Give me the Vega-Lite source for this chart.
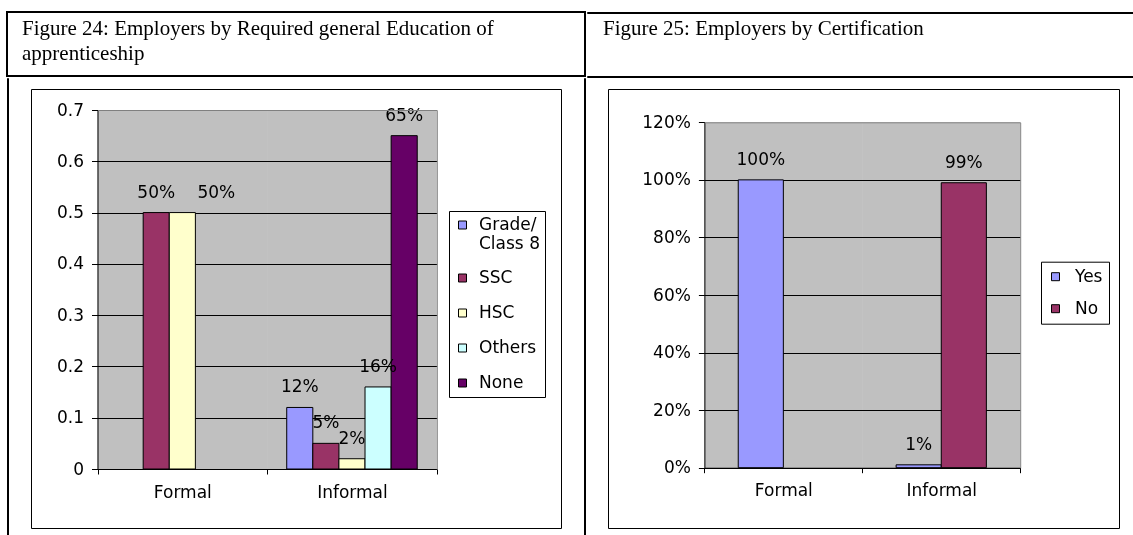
{
  "$schema": "https://vega.github.io/schema/vega-lite/v6.json",
  "background": "white",
  "padding": {"left": 6, "top": 11, "right": 0, "bottom": 0},
  "config": {
    "view": {"stroke": null},
    "font": "DejaVu Sans",
    "axis": {"labelFont": "DejaVu Sans", "labelFontSize": 17, "labelColor": "black"},
    "legend": {"labelFont": "DejaVu Sans", "labelFontSize": 17, "labelColor": "black"},
    "title": {"font": "Liberation Serif", "fontSize": 21, "fontWeight": "normal", "color": "black"}
  },
  "spacing": -3,
  "resolve": {"scale": {"color": "independent", "xOffset": "independent"}, "legend": {"color": "independent"}},
  "vconcat": [
    {
      "spacing": 0,
      "hconcat": [
        {
          "width": 578,
          "height": 64,
          "view": {"stroke": "black", "strokeWidth": 2},
          "title": {
            "text": ["Figure 24: Employers by Required general Education of", "apprenticeship"],
            "anchor": "start", "frame": "group", "orient": "top",
            "offset": 0, "baseline": "alphabetic", "dx": 15, "dy": 69, "lineHeight": 25
          },
          "data": {"values": []},
          "mark": "rect"
        },
        {
          "spacing": 0,
          "vconcat": [
            {"width": 546, "height": 1, "view": {"stroke": "black", "strokeWidth": 1}, "data": {"values": []}, "mark": "rect"},
            {
              "width": 546, "height": 61,
              "title": {
                "text": "Figure 25: Employers by Certification",
                "anchor": "start", "frame": "group", "orient": "top",
                "offset": 0, "baseline": "alphabetic", "dx": 16, "dy": 42
              },
              "data": {"values": []}, "mark": "rect"
            },
            {"width": 546, "height": 1, "view": {"stroke": "black", "strokeWidth": 1}, "data": {"values": []}, "mark": "rect"}
          ]
        }
      ]
    },
    {
      "spacing": 21,
      "resolve": {"scale": {"color": "independent", "xOffset": "independent"}, "legend": {"color": "independent"}},
      "hconcat": [
        {"width": 1, "height": 458, "view": {"stroke": "black", "strokeWidth": 1}, "data": {"values": []}, "mark": "rect"},
        {
          "spacing": 9,
          "vconcat": [
            {"width": 1, "height": 1, "data": {"values": []}, "mark": "rect"},
            {
              "width": 530,
              "height": 439,
              "view": {"stroke": "black", "strokeWidth": 1, "fill": "white"},
              "resolve": {"axis": {"x": "independent", "y": "independent"}},
              "data": {
                "values": [
                  {"type": "Formal", "education": "SSC", "share": 0.5},
                  {"type": "Formal", "education": "HSC", "share": 0.5},
                  {"type": "Informal", "education": "Grade/Class 8", "share": 0.12},
                  {"type": "Informal", "education": "SSC", "share": 0.05},
                  {"type": "Informal", "education": "HSC", "share": 0.02},
                  {"type": "Informal", "education": "Others", "share": 0.16},
                  {"type": "Informal", "education": "None", "share": 0.65}
                ]
              },
              "layer": [
                {
                  "data": {"values": [{"type": "Formal"}, {"type": "Informal"}]},
                  "mark": {"type": "rect", "fill": "#C0C0C0", "blend": "multiply"},
                  "encoding": {
                    "x": {
                      "field": "type", "type": "nominal",
                      "scale": {"domain": ["Formal", "Informal"], "range": [66.5, 405.8], "paddingInner": 0, "paddingOuter": 0},
                      "axis": {
                        "orient": "bottom", "offset": -59, "title": null, "labelAngle": 0,
                        "domainColor": "black", "tickColor": "black", "tickSize": 5, "tickBand": "extent",
                        "labelPadding": 10, "grid": false, "zindex": 0
                      }
                    },
                    "y": {
                      "datum": 0.7, "type": "quantitative",
                      "scale": {"domain": [0, 0.7], "range": [380, 21], "nice": false},
                      "axis": {
                        "orient": "left", "offset": -66.5, "title": null,
                        "values": [0, 0.1, 0.2, 0.3, 0.4, 0.5, 0.6, 0.7], "format": ".1~f",
                        "domainColor": "black", "tickColor": "black", "tickSize": 6, "labelPadding": 8,
                        "grid": true, "gridColor": {"condition": {"test": "datum.value > 0.69", "value": "transparent"}, "value": "black"},
                        "zindex": 0
                      }
                    },
                    "y2": {"datum": 0}
                  }
                },
                {
                  "mark": {"type": "bar", "stroke": "black", "strokeWidth": 1},
                  "encoding": {
                    "x": {
                      "field": "type", "type": "nominal",
                      "axis": {"orient": "top", "offset": -21, "title": null, "labels": false, "ticks": false, "grid": false, "domainColor": "#808080", "zindex": 1}
                    },
                    "xOffset": {
                      "field": "education", "type": "nominal",
                      "scale": {"domain": ["Grade/Class 8", "SSC", "HSC", "Others", "None"], "paddingInner": 0, "paddingOuter": 0.75}
                    },
                    "y": {
                      "field": "share", "type": "quantitative",
                      "axis": {"orient": "right", "offset": -124.2, "title": null, "labels": false, "ticks": false, "grid": false, "domainColor": "#808080", "zindex": 1}
                    },
                    "color": {
                      "field": "education", "type": "nominal",
                      "scale": {"domain": ["Grade/Class 8", "SSC", "HSC", "Others", "None"], "range": ["#9999FF", "#993366", "#FFFFCC", "#CCFFFF", "#660066"]},
                      "legend": {
                        "orient": "none", "legendX": 418, "legendY": 133, "title": null,
                        "strokeColor": "black", "fillColor": "white", "padding": 5,
                        "symbolType": "square", "symbolSize": 64, "symbolStrokeColor": "black", "symbolStrokeWidth": 1, "symbolOpacity": 1,
                        "labelOffset": 8, "rowPadding": 17, "clipHeight": 18,
                        "labelExpr": "datum.label == 'Grade/Class 8' ? ['Grade/', 'Class 8'] : datum.label"
                      }
                    }
                  }
                },
                {
                  "transform": [{"filter": "!(datum.type == 'Formal' && datum.education == 'HSC')"}],
                  "mark": {"type": "text", "dy": -20, "fontSize": 17, "color": "black", "baseline": "middle"},
                  "encoding": {
                    "x": {"field": "type", "type": "nominal", "axis": null},
                    "xOffset": {"field": "education", "type": "nominal"},
                    "y": {"field": "share", "type": "quantitative", "axis": null},
                    "text": {"field": "share", "type": "quantitative", "format": ".0%"}
                  }
                },
                {
                  "transform": [{"filter": "datum.type == 'Formal' && datum.education == 'HSC'"}],
                  "mark": {"type": "text", "dy": -20, "dx": 34, "fontSize": 17, "color": "black", "baseline": "middle"},
                  "encoding": {
                    "x": {"field": "type", "type": "nominal", "axis": null},
                    "xOffset": {"field": "education", "type": "nominal"},
                    "y": {"field": "share", "type": "quantitative", "axis": null},
                    "text": {"field": "share", "type": "quantitative", "format": ".0%"}
                  }
                }
              ]
            }
          ]
        },
        {"width": 1, "height": 458, "view": {"stroke": "black", "strokeWidth": 1}, "data": {"values": []}, "mark": "rect"},
        {
          "spacing": 9,
          "vconcat": [
            {"width": 1, "height": 1, "data": {"values": []}, "mark": "rect"},
            {
              "width": 511,
              "height": 439,
              "view": {"stroke": "black", "strokeWidth": 1, "fill": "white"},
              "resolve": {"axis": {"x": "independent", "y": "independent"}},
              "data": {
                "values": [
                  {"type": "Formal", "certification": "Yes", "share": 1.0},
                  {"type": "Informal", "certification": "Yes", "share": 0.01},
                  {"type": "Informal", "certification": "No", "share": 0.99}
                ]
              },
              "layer": [
                {
                  "data": {"values": [{"type": "Formal"}, {"type": "Informal"}]},
                  "mark": {"type": "rect", "fill": "#C0C0C0", "blend": "multiply"},
                  "encoding": {
                    "x": {
                      "field": "type", "type": "nominal",
                      "scale": {"domain": ["Formal", "Informal"], "range": [96.4, 412.2], "paddingInner": 0, "paddingOuter": 0},
                      "axis": {
                        "orient": "bottom", "offset": -60.3, "title": null, "labelAngle": 0,
                        "domainColor": "black", "tickColor": "black", "tickSize": 5, "tickBand": "extent",
                        "labelPadding": 10, "grid": false, "zindex": 0
                      }
                    },
                    "y": {
                      "datum": 1.2, "type": "quantitative",
                      "scale": {"domain": [0, 1.2], "range": [378.7, 33.3], "nice": false},
                      "axis": {
                        "orient": "left", "offset": -96.4, "title": null,
                        "values": [0, 0.2, 0.4, 0.6, 0.8, 1.0, 1.2], "format": ".0%",
                        "domainColor": "black", "tickColor": "black", "tickSize": 6, "labelPadding": 8,
                        "grid": true, "gridColor": {"condition": {"test": "datum.value > 1.19", "value": "transparent"}, "value": "black"},
                        "zindex": 0
                      }
                    },
                    "y2": {"datum": 0}
                  }
                },
                {
                  "mark": {"type": "bar", "stroke": "black", "strokeWidth": 1},
                  "encoding": {
                    "x": {
                      "field": "type", "type": "nominal",
                      "axis": {"orient": "top", "offset": -33.3, "title": null, "labels": false, "ticks": false, "grid": false, "domainColor": "#808080", "zindex": 1}
                    },
                    "xOffset": {
                      "field": "certification", "type": "nominal",
                      "scale": {"domain": ["Yes", "No"], "paddingInner": 0, "paddingOuter": 0.75}
                    },
                    "y": {
                      "field": "share", "type": "quantitative",
                      "axis": {"orient": "right", "offset": -98.8, "title": null, "labels": false, "ticks": false, "grid": false, "domainColor": "#808080", "zindex": 1}
                    },
                    "color": {
                      "field": "certification", "type": "nominal",
                      "scale": {"domain": ["Yes", "No"], "range": ["#9999FF", "#993366"]},
                      "legend": {
                        "orient": "none", "legendX": 433, "legendY": 183.7, "title": null,
                        "strokeColor": "black", "fillColor": "white", "padding": 6,
                        "symbolType": "square", "symbolSize": 64, "symbolStrokeColor": "black", "symbolStrokeWidth": 1, "symbolOpacity": 1,
                        "labelOffset": 11, "rowPadding": 14, "clipHeight": 18
                      }
                    }
                  }
                },
                {
                  "mark": {"type": "text", "dy": -20, "fontSize": 17, "color": "black", "baseline": "middle"},
                  "encoding": {
                    "x": {"field": "type", "type": "nominal", "axis": null},
                    "xOffset": {"field": "certification", "type": "nominal"},
                    "y": {"field": "share", "type": "quantitative", "axis": null},
                    "text": {"field": "share", "type": "quantitative", "format": ".0%"}
                  }
                }
              ]
            }
          ]
        }
      ]
    }
  ]
}
